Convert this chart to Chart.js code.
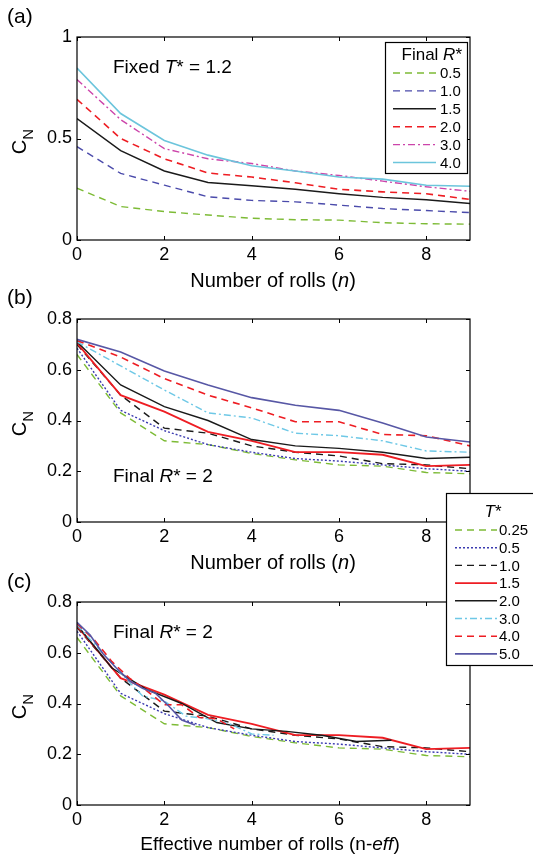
<!DOCTYPE html>
<html>
<head>
<meta charset="utf-8">
<script src="https://cdn.jsdelivr.net/npm/chart.js@4.4.1/dist/chart.umd.min.js"></script>
<style>
  html, body { margin: 0; padding: 0; background: #fff; }
  #wrap { position: relative; width: 533px; height: 864px; }
  canvas { position: absolute; left: 0; top: 0; }
</style>
</head>
<body>
<div id="wrap">
  <canvas id="chartA" width="533" height="864"></canvas>
  <canvas id="chartB" width="533" height="864"></canvas>
  <canvas id="chartC" width="533" height="864"></canvas>
</div>
<script>
// ---- data ----
const rolls = [0, 1, 2, 3, 4, 5, 6, 7, 8, 9];
const xTicks = [0, 2, 4, 6, 8];

// (a) fixed T* = 1.2, one line per final R*
const finalR = ['0.5', '1.0', '1.5', '2.0', '3.0', '4.0'];
const aR05 = [0.255, 0.165, 0.14, 0.123, 0.107, 0.10, 0.098, 0.085, 0.08, 0.078];
const aR10 = [0.46, 0.328, 0.27, 0.213, 0.195, 0.188, 0.172, 0.155, 0.145, 0.135];
const aR15 = [0.598, 0.44, 0.34, 0.283, 0.267, 0.25, 0.228, 0.21, 0.198, 0.18];
const aR20 = [0.693, 0.50, 0.40, 0.33, 0.31, 0.282, 0.25, 0.237, 0.228, 0.20];
const aR30 = [0.79, 0.593, 0.45, 0.40, 0.377, 0.34, 0.318, 0.29, 0.262, 0.24];
const aR40 = [0.847, 0.623, 0.49, 0.418, 0.366, 0.34, 0.31, 0.30, 0.27, 0.265];

// (b) and (c) final R* = 2, one line per T*
const tStar = ['0.25', '0.5', '1.0', '1.5', '2.0', '3.0', '4.0', '5.0'];
const bT025 = [0.66, 0.43, 0.32, 0.305, 0.27, 0.245, 0.225, 0.22, 0.195, 0.19];
const bT05  = [0.685, 0.44, 0.36, 0.305, 0.275, 0.25, 0.24, 0.225, 0.21, 0.20];
const bT10  = [0.70, 0.50, 0.37, 0.35, 0.30, 0.275, 0.26, 0.23, 0.225, 0.21];
const bT15  = [0.705, 0.50, 0.435, 0.355, 0.32, 0.275, 0.275, 0.265, 0.22, 0.225];
const bT20  = [0.71, 0.54, 0.455, 0.40, 0.325, 0.30, 0.29, 0.275, 0.25, 0.255];
const bT30  = [0.71, 0.615, 0.52, 0.43, 0.41, 0.35, 0.34, 0.32, 0.28, 0.275];
const bT40  = [0.715, 0.65, 0.565, 0.50, 0.45, 0.395, 0.395, 0.345, 0.34, 0.30];
const bT50  = [0.72, 0.67, 0.595, 0.54, 0.49, 0.46, 0.44, 0.39, 0.335, 0.315];

// (c) effective number of rolls for each T*
const effT025 = [0, 1, 2, 3, 4, 5, 6, 7, 8, 9];
const effT05  = [0, 1, 2, 3, 4, 5, 6, 7, 8, 9];
const effT10  = [0, 1, 2, 3, 4, 5, 6, 7, 8, 9];
const effT15  = [0, 1, 2, 3, 4, 5, 6, 7, 8, 9];
const effT20  = [0, 0.8, 1.6, 2.4, 3.2, 4.0, 4.8, 5.6, 6.4, 7.2];
const effT30  = [0, 0.5, 1.0, 1.5, 2.0, 2.5, 3.0, 3.5, 4.0, 4.5];
const effT40  = [0, 0.4, 0.8, 1.2, 1.6, 2.0, 2.4, 2.8, 3.2, 3.6];
const effT50  = [0, 0.3, 0.6, 0.9, 1.2, 1.5, 1.8, 2.1, 2.4, 2.7];

// ---- styles ----
const FONT = '"Liberation Sans", Arial, Helvetica, sans-serif';
const DASH = [7, 5], DOT = [2, 2], DASHDOT = [7, 3, 2, 3];
const green = '#7dbb36', red = '#ee1d23', black = '#1a1a1a';

const stylesA = [
  { color: green, dash: DASH, width: 1.4 },
  { color: '#4b4bab', dash: DASH, width: 1.4 },
  { color: black, dash: [], width: 1.4 },
  { color: red, dash: DASH, width: 1.6 },
  { color: '#cc44aa', dash: DASHDOT, width: 1.4 },
  { color: '#6cc5dc', dash: [], width: 1.6 }
];
const stylesB = [
  { color: green, dash: DASH, width: 1.4 },
  { color: '#3b3bb0', dash: DOT, width: 1.4 },
  { color: black, dash: DASH, width: 1.4 },
  { color: red, dash: [], width: 1.8 },
  { color: black, dash: [], width: 1.4 },
  { color: '#6ec8e6', dash: DASHDOT, width: 1.4 },
  { color: red, dash: DASH, width: 1.6 },
  { color: '#5757a5', dash: [], width: 1.6 }
];

function makeSets(labels, xs, ys, styles) {
  return labels.map((lab, i) => ({
    label: lab,
    data: ys[i].map((v, j) => ({ x: xs[i][j], y: v })),
    borderColor: styles[i].color,
    backgroundColor: styles[i].color,
    borderDash: styles[i].dash,
    borderWidth: styles[i].width,
    pointRadius: 0,
    tension: 0,
    fill: false,
    order: -i
  }));
}

// ---- drawing helpers ----
function rich(ctx, parts, x, y, size, align) {
  ctx.textAlign = 'left';
  ctx.textBaseline = 'alphabetic';
  let w = 0;
  parts.forEach(p => { ctx.font = (p[1] ? 'italic ' : '') + size + 'px ' + FONT; w += ctx.measureText(p[0]).width; });
  let cx = align === 'right' ? x - w : align === 'center' ? x - w / 2 : x;
  parts.forEach(p => {
    ctx.font = (p[1] ? 'italic ' : '') + size + 'px ' + FONT;
    ctx.fillText(p[0], cx, y);
    cx += ctx.measureText(p[0]).width;
  });
}

function yTitle(ctx, area) {
  ctx.save();
  ctx.translate(0, (area.top + area.bottom) / 2 + 3);
  ctx.rotate(-Math.PI / 2);
  ctx.fillStyle = '#000';
  ctx.textBaseline = 'alphabetic';
  ctx.font = '20px ' + FONT;
  const wc = ctx.measureText('C').width;
  ctx.font = '15px ' + FONT;
  const wn = ctx.measureText('N').width;
  const x0 = -(wc + wn) / 2;
  ctx.font = '20px ' + FONT;
  ctx.fillText('C', x0, 26);
  ctx.font = '15px ' + FONT;
  ctx.fillText('N', x0 + wc, 33);
  ctx.restore();
}

function drawLegend(ctx, box, title, rows) {
  ctx.save();
  ctx.fillStyle = '#fff';
  ctx.fillRect(box.x, box.y, box.w, box.h);
  ctx.strokeStyle = '#000';
  ctx.lineWidth = 1.2;
  ctx.setLineDash([]);
  ctx.strokeRect(box.x + 0.5, box.y + 0.5, box.w, box.h);
  ctx.fillStyle = '#000';
  rich(ctx, title.parts, title.x, title.y, title.size, title.align);
  rows.forEach((ds, i) => {
    const y = box.rowY + i * box.step;
    ctx.strokeStyle = ds.borderColor;
    ctx.lineWidth = ds.borderWidth;
    ctx.setLineDash(ds.borderDash);
    ctx.beginPath();
    ctx.moveTo(box.lx0, y);
    ctx.lineTo(box.lx1, y);
    ctx.stroke();
    ctx.setLineDash([]);
    ctx.fillStyle = '#000';
    ctx.font = box.size + 'px ' + FONT;
    ctx.textBaseline = 'middle';
    ctx.textAlign = 'left';
    ctx.fillText(ds.label, box.tx, y + 1);
  });
  ctx.restore();
}

// box frame with inward tick marks on all four sides
const framePlugin = {
  id: 'frame',
  afterDatasetsDraw(chart) {
    const { ctx, chartArea: a, scales: { x, y } } = chart;
    ctx.save();
    ctx.strokeStyle = '#000';
    ctx.lineWidth = 1.2;
    ctx.setLineDash([]);
    ctx.strokeRect(a.left, a.top, a.right - a.left, a.bottom - a.top);
    ctx.lineWidth = 1;
    ctx.beginPath();
    x.ticks.forEach(t => {
      const px = Math.round(x.getPixelForValue(t.value)) + 0.5;
      ctx.moveTo(px, a.bottom); ctx.lineTo(px, a.bottom - 4);
      ctx.moveTo(px, a.top); ctx.lineTo(px, a.top + 4);
    });
    y.ticks.forEach(t => {
      const py = Math.round(y.getPixelForValue(t.value)) + 0.5;
      ctx.moveTo(a.left, py); ctx.lineTo(a.left + 4, py);
      ctx.moveTo(a.right, py); ctx.lineTo(a.right - 4, py);
    });
    ctx.stroke();
    ctx.restore();
  }
};

function makeOptions(area, yMax, yStep) {
  return {
    responsive: false,
    animation: false,
    events: [],
    layout: { padding: { top: area.top, right: 533 - area.right, bottom: 0, left: 0 } },
    plugins: { legend: { display: false }, tooltip: { enabled: false } },
    scales: {
      x: {
        type: 'linear', min: 0, max: 9,
        afterBuildTicks: ax => { ax.ticks = xTicks.map(v => ({ value: v })); },
        afterFit: ax => { ax.height = 864 - area.bottom; },
        grid: { display: false, drawTicks: false },
        border: { display: false },
        ticks: { padding: 4, color: '#000', font: { family: FONT, size: 18 } }
      },
      y: {
        min: 0, max: yMax,
        afterFit: ax => { ax.width = area.left; },
        grid: { display: false, drawTicks: false },
        border: { display: false },
        ticks: {
          stepSize: yStep, padding: 5, color: '#000', font: { family: FONT, size: 18 },
          callback: v => String(Number(v.toFixed(2)))
        }
      }
    }
  };
}

// ---- chart (a) ----
const areaA = { left: 77, right: 470, top: 37, bottom: 240 };
new Chart(document.getElementById('chartA'), {
  type: 'line',
  data: { datasets: makeSets(finalR, finalR.map(() => rolls), [aR05, aR10, aR15, aR20, aR30, aR40], stylesA) },
  options: makeOptions(areaA, 1, 0.5),
  plugins: [framePlugin, {
    id: 'extrasA',
    afterDraw(chart) {
      const ctx = chart.ctx;
      ctx.save();
      ctx.fillStyle = '#000';
      rich(ctx, [['(a)', false]], 7, 23, 21, 'left');
      rich(ctx, [['Fixed ', false], ['T', true], ['* = 1.2', false]], 113, 73, 19, 'left');
      rich(ctx, [['Number of rolls (', false], ['n', true], [')', false]], 273, 287, 20, 'center');
      yTitle(ctx, chart.chartArea);
      drawLegend(ctx,
        { x: 385, y: 42, w: 82, h: 131, rowY: 73, step: 17.9, lx0: 393, lx1: 436, tx: 440, size: 15 },
        { parts: [['Final ', false], ['R', true], ['*', false]], x: 462, y: 60, size: 17, align: 'right' },
        chart.data.datasets);
      ctx.restore();
    }
  }]
});

// ---- chart (b) ----
const areaB = { left: 77, right: 470, top: 319, bottom: 522 };
const ysB = [bT025, bT05, bT10, bT15, bT20, bT30, bT40, bT50];
new Chart(document.getElementById('chartB'), {
  type: 'line',
  data: { datasets: makeSets(tStar, tStar.map(() => rolls), ysB, stylesB) },
  options: makeOptions(areaB, 0.8, 0.2),
  plugins: [framePlugin, {
    id: 'extrasB',
    afterDraw(chart) {
      const ctx = chart.ctx;
      ctx.save();
      ctx.fillStyle = '#000';
      rich(ctx, [['(b)', false]], 7, 304, 21, 'left');
      rich(ctx, [['Final ', false], ['R', true], ['* = 2', false]], 113, 482, 19, 'left');
      rich(ctx, [['Number of rolls (', false], ['n', true], [')', false]], 273, 569, 20, 'center');
      yTitle(ctx, chart.chartArea);
      ctx.restore();
    }
  }]
});

// ---- chart (c) ----
const areaC = { left: 77, right: 470, top: 602, bottom: 805 };
const xsC = [effT025, effT05, effT10, effT15, effT20, effT30, effT40, effT50];
new Chart(document.getElementById('chartC'), {
  type: 'line',
  data: { datasets: makeSets(tStar, xsC, ysB, stylesB) },
  options: makeOptions(areaC, 0.8, 0.2),
  plugins: [framePlugin, {
    id: 'extrasC',
    afterDraw(chart) {
      const ctx = chart.ctx;
      ctx.save();
      ctx.fillStyle = '#000';
      rich(ctx, [['(c)', false]], 7, 588, 21, 'left');
      rich(ctx, [['Final ', false], ['R', true], ['* = 2', false]], 113, 638, 19, 'left');
      rich(ctx, [['Effective number of rolls (n-', false], ['eff', true], [')', false]], 270, 850, 19, 'center');
      yTitle(ctx, chart.chartArea);
      // shared legend for (b) and (c)
      drawLegend(ctx,
        { x: 446, y: 493, w: 100, h: 172, rowY: 530, step: 17.7, lx0: 455, lx1: 497, tx: 499, size: 15 },
        { parts: [['T', true], ['*', false]], x: 493, y: 517, size: 17, align: 'center' },
        chart.data.datasets);
      ctx.restore();
    }
  }]
});
</script>
</body>
</html>
